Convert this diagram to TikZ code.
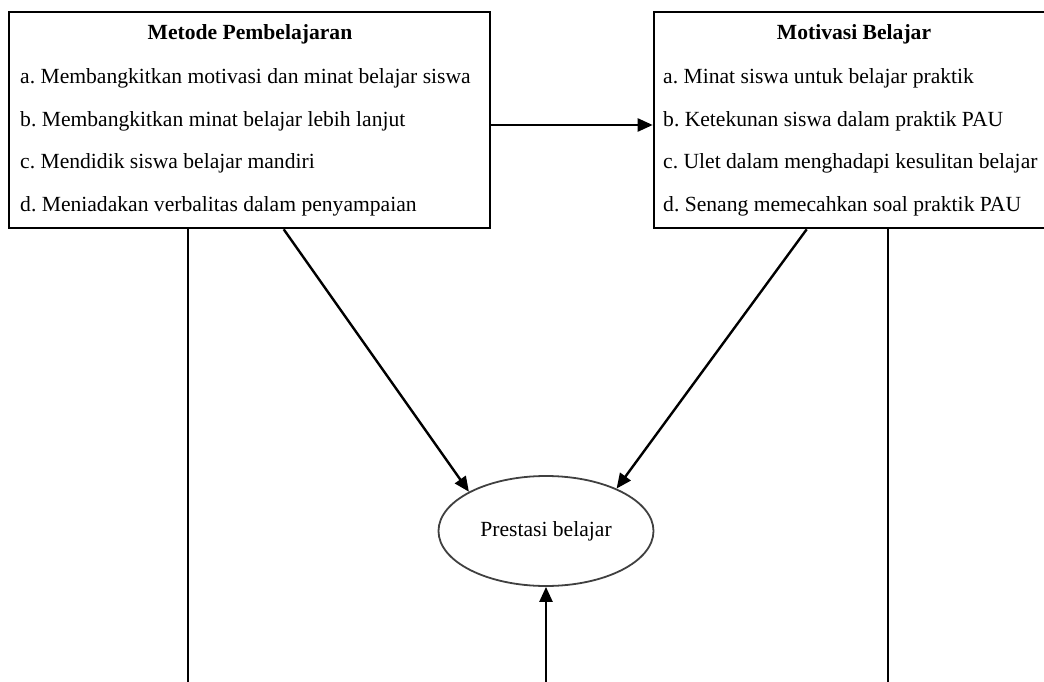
\documentclass[tikz,border=0pt]{standalone}
\usepackage{fontspec}
\setmainfont{Liberation Serif}
\usetikzlibrary{arrows.meta,shapes.geometric}
\begin{document}
\frenchspacing
\begin{tikzpicture}[x=1pt,y=-1pt,
  box/.style={draw, line width=2.6pt, rectangle, inner sep=0pt},
  txt/.style={anchor=base west, inner sep=0pt, font=\fontsize{21.6}{26}\selectfont},
  ttl/.style={anchor=base, inner sep=0pt, font=\fontsize{21.6}{26}\selectfont\bfseries},
  conn/.style={line width=2.4pt},
  arr/.style={conn, -{Triangle[length=15pt,width=13pt]}}]
\useasboundingbox (0,0) rectangle (1044,682);
\clip (0,0) rectangle (1044,682);
% boxes
\node[box, minimum width=481pt, minimum height=216pt] (lb) at (249.5,120) {};
\node[box, minimum width=406pt, minimum height=216pt] (rb) at (857,120) {};
% left box text
\node[ttl] (lt) at (250,40) {Metode Pembelajaran};
\node[txt] (la) at (20,84) {a. Membangkitkan motivasi dan minat belajar siswa};
\node[txt] (lbb) at (20,126.3) {b. Membangkitkan minat belajar lebih lanjut};
\node[txt] (lc) at (20,168.6) {c. Mendidik siswa belajar mandiri};
\node[txt] (ld) at (20,211) {d. Meniadakan verbalitas dalam penyampaian};
% right box text
\node[ttl] (rt) at (854,40) {Motivasi Belajar};
\node[txt] (ra) at (663,84) {a. Minat siswa untuk belajar praktik};
\node[txt] (rbb) at (663,126.3) {b. Ketekunan siswa dalam praktik PAU};
\node[txt] (rc) at (663,168.6) {c. Ulet dalam menghadapi kesulitan belajar};
\node[txt] (rd) at (663,211) {d. Senang memecahkan soal praktik PAU};
% ellipse
\node[ellipse, draw=black!75, line width=1.8pt, minimum width=215pt, minimum height=110pt,
      font=\fontsize{21.6}{26}\selectfont] (el) at (546,531) {Prestasi belajar};
% free ends at the lower edge
\coordinate (b1) at (188,690);
\coordinate (b2) at (546,690);
\coordinate (b3) at (888,690);
% connectors
\draw[arr] ([yshift=-5pt]lb.east) -- ([yshift=-5pt]rb.west);
\draw[conn] (b1 |- lb.south) -- (b1);
\draw[arr] ([xshift=276pt]lb.south west) -- (el.153);
\draw[arr] ([xshift=154pt]rb.south west) -- (el.31);
\draw[conn] (b3 |- rb.south) -- (b3);
\draw[arr] (b2) -- (el.south);
\end{tikzpicture}
\end{document}
